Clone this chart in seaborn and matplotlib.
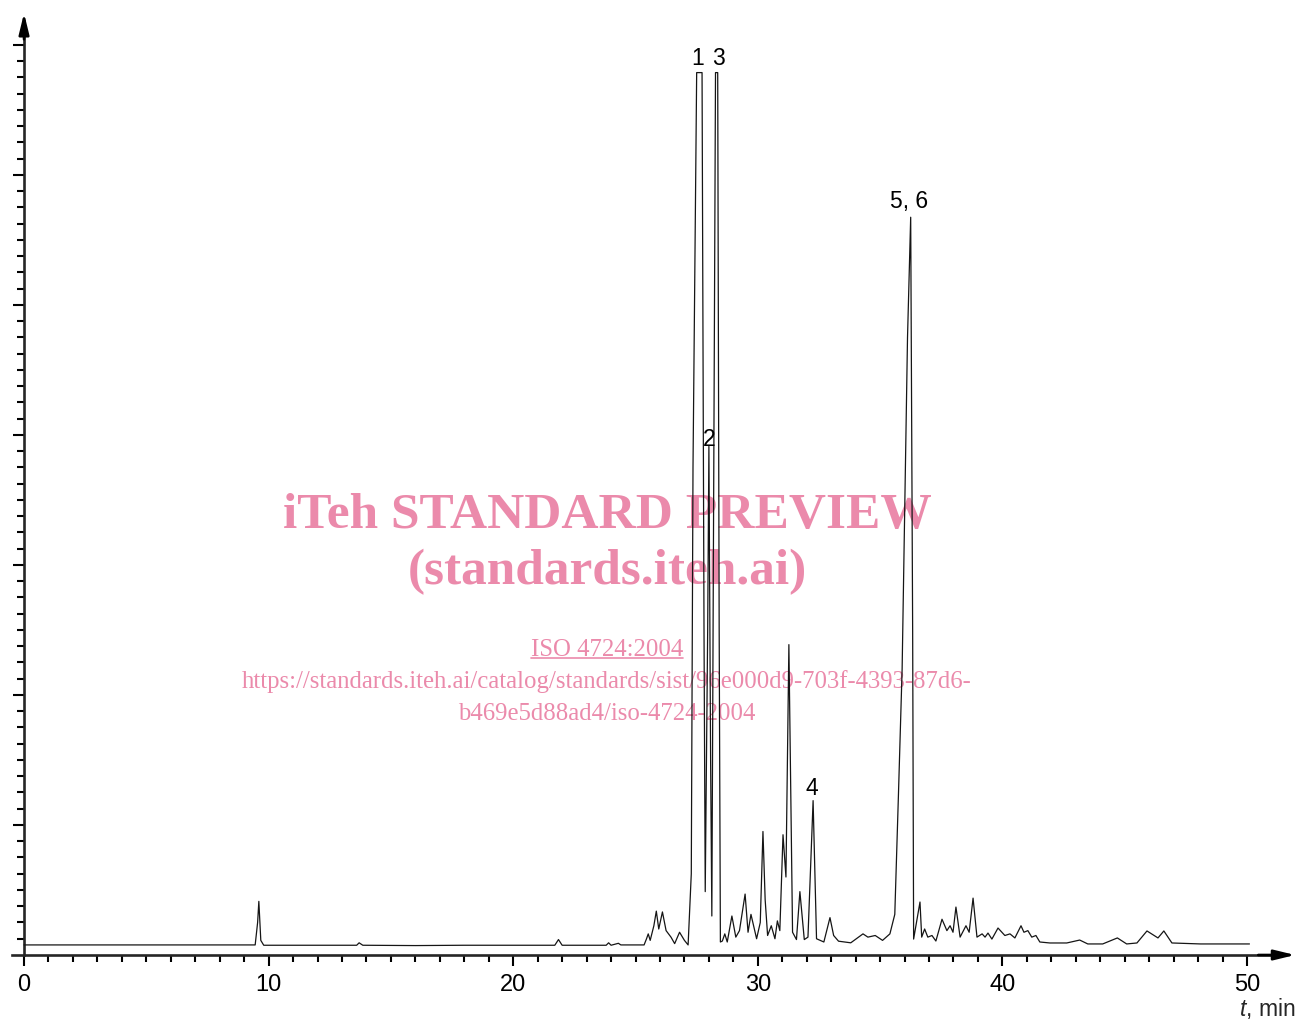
import matplotlib
matplotlib.use("Agg")
import matplotlib.pyplot as plt
import pandas as pd
import seaborn as sns

# ---------------- DATA ----------------
# chromatogram trace: retention time (min) and detector signal (minor y-tick units)
time_min = [
    0.0, 9.45, 9.55, 9.6, 9.68, 9.8, 12.0, 13.6, 13.7, 13.85, 16.0, 18.0, 21.7, 21.85, 22.0,
    23.8, 23.9, 24.0, 24.3, 24.4, 25.35, 25.45, 25.52, 25.6, 25.75, 25.85, 25.95, 26.1,
    26.25, 26.45, 26.6, 26.8, 27.0, 27.15, 27.28, 27.35, 27.5, 27.72, 27.8, 27.85, 27.95,
    28.0, 28.07, 28.12, 28.2, 28.27, 28.36, 28.42, 28.47, 28.55, 28.65, 28.75, 28.94,
    29.1, 29.25, 29.48, 29.6, 29.72, 29.95, 30.1, 30.21, 30.3, 30.4, 30.55, 30.7, 30.8,
    30.9, 31.03, 31.15, 31.27, 31.42, 31.58, 31.72, 31.9, 32.05, 32.26, 32.4, 32.7, 32.95,
    33.1, 33.3, 33.8, 34.3, 34.5, 34.8, 35.1, 35.4, 35.6, 35.75, 35.9, 36.0, 36.12, 36.25,
    36.33, 36.37, 36.63, 36.7, 36.82, 36.95, 37.12, 37.28, 37.53, 37.73, 37.86, 37.98,
    38.1, 38.27, 38.51, 38.64, 38.8, 38.96, 39.17, 39.29, 39.41, 39.57, 39.82, 40.1,
    40.31, 40.51, 40.76, 40.88, 41.04, 41.2, 41.37, 41.53, 41.94, 42.63, 43.16, 43.49,
    44.1, 44.7, 45.08, 45.5, 45.91, 46.36, 46.6, 46.93, 48.1, 50.1,
]
signal = [
    0.62, 0.62, 2.0, 3.3, 0.9, 0.6, 0.6, 0.6, 0.75, 0.6, 0.58, 0.6, 0.6, 0.95, 0.6,
    0.6, 0.75, 0.6, 0.72, 0.62, 0.62, 1.0, 1.3, 0.9, 1.8, 2.7, 1.6, 2.65,
    1.5, 1.1, 0.7, 1.4, 0.9, 0.62, 5.0, 30.0, 54.3, 54.3, 20.0, 3.9, 20.0,
    31.3, 12.0, 2.4, 30.0, 54.3, 54.3, 20.0, 0.8, 0.86, 1.3, 0.8, 2.4,
    1.1, 1.5, 3.75, 1.4, 2.5, 1.0, 2.0, 7.6, 3.4, 1.2, 1.8, 1.0, 2.1,
    1.5, 7.4, 4.8, 19.1, 1.4, 0.95, 3.9, 0.95, 1.1, 9.5, 1.0, 0.8, 2.3,
    1.2, 0.85, 0.75, 1.3, 1.1, 1.2, 0.9, 1.3, 2.5, 9.9, 17.6, 26.8, 38.0, 45.4,
    20.0, 0.98, 3.26, 1.1, 1.6, 1.1, 1.2, 0.86, 2.2, 1.5, 1.8, 1.4,
    2.95, 1.1, 1.8, 1.4, 3.5, 1.1, 1.3, 1.1, 1.35, 0.98, 1.66, 1.2,
    1.3, 1.05, 1.8, 1.4, 1.5, 1.1, 1.2, 0.8, 0.74, 0.74, 0.92, 0.68,
    0.68, 1.05, 0.68, 0.74, 1.48, 1.05, 1.48, 0.74, 0.68, 0.68,
]

peak_labels = ["1", "3", "2", "4", "5, 6"]
peak_label_t = [27.55, 28.38, 28.0, 32.2, 36.2]
peak_label_y = [54.8, 54.8, 31.4, 9.9, 46.0]

x_major = list(range(0, 51, 10))
x_minor = list(range(0, 51))
y_major = list(range(8, 57, 8))
y_minor = list(range(1, 57))

wm_big = ["iTeh STANDARD PREVIEW", "(standards.iteh.ai)"]
wm_small = ["ISO 4724:2004",
            "https://standards.iteh.ai/catalog/standards/sist/96e000d9-703f-4393-87d6-",
            "b469e5d88ad4/iso-4724-2004"]

# ---------------- STYLE ----------------
sns.set_style("ticks")
plt.rcParams["font.family"] = ["Liberation Sans", "DejaVu Sans"]
plt.rcParams["mathtext.fontset"] = "custom"
plt.rcParams["mathtext.rm"] = "Liberation Sans"
plt.rcParams["mathtext.it"] = "Liberation Sans:italic"

W, H = 1297, 1020
fig = plt.figure(figsize=(W / 100, H / 100), dpi=100)
ax = fig.add_axes([11.8 / W, 64 / H, 1271.9 / W, 934.4 / H])

df = pd.DataFrame({"t": time_min, "signal": signal})
sns.lineplot(data=df, x="t", y="signal", estimator=None, sort=False,
             color="#151515", linewidth=0.9, ax=ax, zorder=3)

ax.set_xlim(-0.5, 51.5)
ax.set_ylim(0, 57.5)
ax.set_xlabel("")
ax.set_ylabel("")

# axes with arrow heads
for s in ["top", "right"]:
    ax.spines[s].set_visible(False)
ax.spines["left"].set_position(("data", 0))
ax.spines["left"].set_linewidth(1.9)
ax.spines["bottom"].set_linewidth(1.9)
arrow = dict(arrowstyle="-|>,head_length=0.7,head_width=0.17", color="black",
             lw=1.9, mutation_scale=18, shrinkA=0, shrinkB=0)
ax.annotate("", xy=(1.009, 0), xytext=(0.98, 0), xycoords=ax.get_yaxis_transform(),
            arrowprops=arrow, annotation_clip=False)
ax.annotate("", xy=(0, 1.008), xytext=(0, 0.98), xycoords=ax.get_xaxis_transform(),
            arrowprops=arrow, annotation_clip=False)

ax.set_xticks(x_major)
ax.set_xticks(x_minor, minor=True)
ax.set_xticklabels([str(v) for v in x_major])
ax.set_yticks(y_major)
ax.set_yticks(y_minor, minor=True)
ax.set_yticklabels([])
ax.tick_params(axis="both", which="major", direction="out", length=8, width=1.5,
               color="black", labelsize=17, labelcolor="black")
ax.tick_params(axis="both", which="minor", direction="out", length=5, width=1.5,
               color="black")
ax.tick_params(axis="x", which="major", pad=5)

# peak numbers
for lab, t, y in zip(peak_labels, peak_label_t, peak_label_y):
    ax.text(t, y, lab, ha="center", va="baseline", fontsize=16.5, color="black",
            zorder=4, clip_on=False)

fig.text(1295 / W, 4 / H, r"$\it{t}$, min", ha="right", va="baseline", fontsize=16.5)

# watermark (drawn underneath the trace)
pink = "#eb8aab"
serif = ["Liberation Serif", "DejaVu Serif"]
ax.text(607 / W, 1 - 528 / H, wm_big[0], transform=fig.transFigure, ha="center",
        va="baseline", fontsize=37, fontweight="bold", color=pink, family=serif, zorder=1)
ax.text(607 / W, 1 - 584 / H, wm_big[1], transform=fig.transFigure, ha="center",
        va="baseline", fontsize=37, fontweight="bold", color=pink, family=serif, zorder=1)
small_y = [656, 688, 720]
small_texts = []
for txt, py in zip(wm_small, small_y):
    small_texts.append(ax.text(607 / W, 1 - py / H, txt, transform=fig.transFigure,
                               ha="center", va="baseline", fontsize=17.8, color=pink,
                               family=serif, zorder=1))

# underline the ISO reference
fig.canvas.draw()
bb = small_texts[0].get_window_extent().transformed(fig.transFigure.inverted())
uy = 1 - 659 / H
ax.plot([bb.x0, bb.x1], [uy, uy], transform=fig.transFigure, color=pink, lw=1.2,
        clip_on=False, zorder=1)

fig.savefig("out.png", dpi=100)
